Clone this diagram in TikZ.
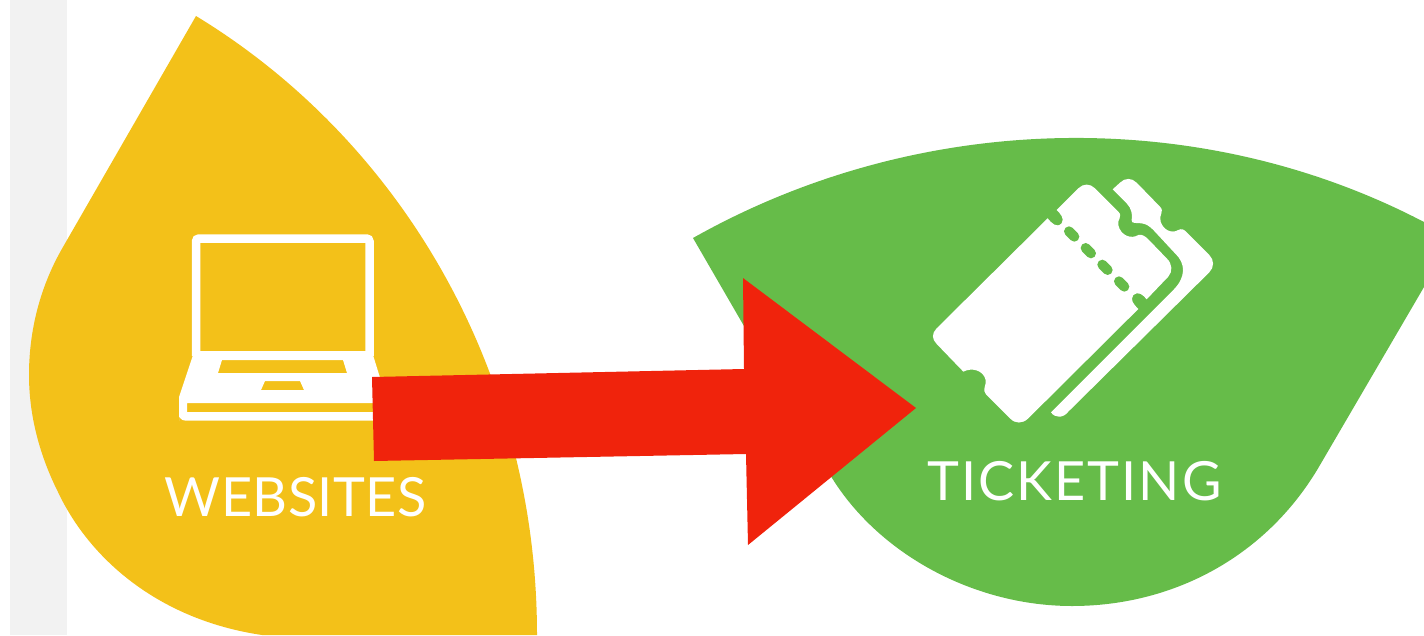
\documentclass[tikz,border=0pt]{standalone}
\usepackage{fontspec}
\usepackage{xcolor}
\newfontfamily\labelfont{Lato}
\definecolor{leafyellow}{HTML}{F3C119}
\definecolor{leafgreen}{HTML}{66BC49}
\definecolor{arrowred}{HTML}{F0230C}
\definecolor{stripgray}{HTML}{F2F2F2}

\begin{document}
\begin{tikzpicture}[x=1pt, y=-1pt,
  lbl/.style={text=white, inner sep=0pt, font=\labelfont\fontsize{54}{54}\selectfont},
  perf/.style={draw=leafgreen, line width=10pt, line cap=round}]
\useasboundingbox (0,0) rectangle (1424,635);
\fill[stripgray] (10,0) rectangle (67,635);
% leaves
\fill[leafyellow] (196,16) .. controls (400,140) and (537,370) .. (537,635) -- (262,635)
  .. controls (160,620) and (90,560) .. (58,492) .. controls (42,460) and (29,420) .. (29,375)
  .. controls (29,335) and (38,290) .. (63,247) -- cycle;
\fill[leafgreen] (693,238) .. controls (920,110) and (1200,105) .. (1424,222) -- (1424,287) -- (1320,465)
  .. controls (1268,555) and (1175,606) .. (1072,606) .. controls (975,606) and (880,555) .. (832,478) -- cycle;
% laptop
\draw[white, line width=8.5pt, rounded corners=3pt] (196,356) -- (196,238.5) -- (369.5,238.5) -- (369.5,356);
\fill[white, even odd rule] (193,351) -- (373,351) -- (373,355) -- (386,397) -- (386,415) [rounded corners=6pt] -- (386,420.5) -- (179,420.5) -- (179,415) [sharp corners] -- (179,397) -- (193,355) -- cycle
  (222,360) -- (343,360) -- (347,373) -- (218,373) -- cycle
  (265,381) -- (300,381) -- (304,390) -- (261,390) -- cycle
  (187,403) -- (378,403) -- (378,412) -- (187,412) -- cycle;
\node[lbl] (websites) at (295.5,497) {\addfontfeature{LetterSpace=0.7}WEBSITES};
% ticket
\begin{scope}[shift={(900,160)}, x=0.3333pt, y=-0.3333pt]
\fill[white] (470,150) -- (535,85) .. controls (550,70) and (570,70) .. (585,85) -- (655,155)
  .. controls (670,170) and (650,180) .. (655,195) .. controls (662,228) and (695,238) .. (715,225)
  .. controls (725,222) and (735,228) .. (745,238) -- (800,295) .. controls (818,312) and (818,335) .. (805,350)
  -- (740,418) .. controls (730,405) and (715,392) .. (700,405) .. controls (690,420) and (700,432) .. (715,447)
  -- (385,775) .. controls (368,792) and (345,792) .. (330,775) -- (258,703)
  .. controls (245,690) and (260,675) .. (257,660) .. controls (250,630) and (215,622) .. (190,635)
  -- (110,552) .. controls (95,537) and (95,520) .. (110,505) -- (443,175)
  .. controls (455,190) and (470,205) .. (485,190) .. controls (495,175) and (480,160) .. (470,150) -- cycle;
\foreach \px/\py in {515/222, 565/272, 615/322, 665/372}
  \draw[perf] (\px-8,\py-8) -- (\px+8,\py+8);
\fill[white] (638,88) -- (660,68) .. controls (675,53) and (695,53) .. (710,68) -- (780,140)
  .. controls (795,155) and (775,165) .. (782,185) .. controls (790,210) and (815,222) .. (835,210)
  .. controls (845,205) and (852,208) .. (860,217) -- (928,285) .. controls (943,300) and (943,322) .. (928,337)
  -- (505,755) .. controls (490,775) and (465,775) .. (453,757) -- (820,390)
  .. controls (858,352) and (858,310) .. (825,280) -- (760,210) .. controls (750,200) and (740,192) .. (725,190)
  .. controls (710,188) and (693,192) .. (695,180) .. controls (698,165) and (695,145) .. (680,130) -- cycle;
\end{scope}
\node[lbl] (ticketing) at (1074.5,481) {\addfontfeature{LetterSpace=3.7}TICKETING};
% arrow
\fill[arrowred] (372,377) -- (744,369) -- (743,278) -- (916,408) -- (748,545) -- (746,454) -- (374,461) -- cycle;
\end{tikzpicture}
\end{document}
